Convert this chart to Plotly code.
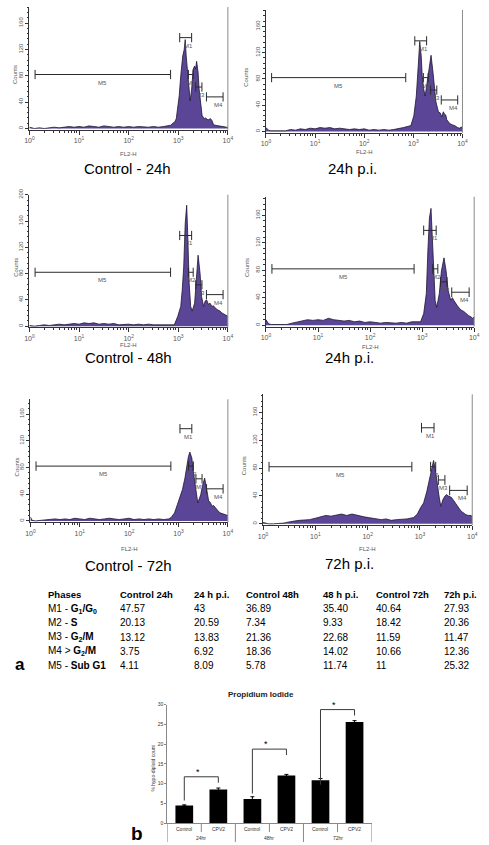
import math
import plotly.graph_objects as go

W, H = 489, 845

# ================= DATA =================
panel_titles = ["Control - 24h", "24h p.i.", "Control - 48h", "24h p.i.", "Control - 72h", "72h p.i."]

# FL2-H histograms: position in decades (log10 FL2-H) and event counts
c24_logx = [0.0, 0.1, 0.2, 0.3, 0.4, 0.5, 0.6, 0.7, 0.8, 0.9, 1.0, 1.1, 1.2, 1.3, 1.4, 1.5, 1.6, 1.7, 1.8, 1.9,
            2.0, 2.1, 2.2, 2.3, 2.4, 2.5, 2.6, 2.7, 2.8, 2.85, 2.89, 2.93, 2.96, 2.99, 3.02, 3.05, 3.09, 3.12,
            3.14, 3.16, 3.19, 3.22, 3.24, 3.27, 3.30, 3.33, 3.35, 3.37, 3.40, 3.42, 3.45, 3.48, 3.52, 3.55,
            3.60, 3.65, 3.68, 3.71, 3.74, 3.80, 3.84, 3.90, 3.97, 4.0]
c24_counts = [2, 0, 1, 0, 1, 2, 1, 2, 3, 2, 3, 2, 4, 3, 2, 4, 3, 2, 3, 2,
              3, 2, 3, 2, 2, 3, 2, 3, 4, 5, 8, 10, 15, 30, 50, 80, 110, 120,
              135, 110, 85, 55, 42, 60, 90, 95, 90, 102, 85, 60, 35, 20, 15, 16,
              13, 15, 12, 6, 5, 4, 3, 3, 2, 2]

p24_logx = [0.0, 0.05, 0.1, 0.2, 0.3, 0.4, 0.5, 0.6, 0.7, 0.8, 0.9, 1.0, 1.1, 1.2, 1.3, 1.4, 1.5, 1.6, 1.7, 1.8,
            1.9, 2.0, 2.1, 2.2, 2.3, 2.4, 2.5, 2.6, 2.7, 2.8, 2.9, 2.95, 3.01, 3.06, 3.10, 3.12, 3.13, 3.16,
            3.18, 3.21, 3.24, 3.28, 3.33, 3.36, 3.40, 3.43, 3.46, 3.51, 3.55, 3.58, 3.61, 3.63, 3.66, 3.68,
            3.72, 3.74, 3.80, 3.84, 3.90, 3.94, 3.98, 4.0]
p24_counts = [6, 2, 1, 1, 2, 1, 3, 2, 4, 3, 5, 4, 6, 5, 6, 4, 5, 4, 3, 4,
              3, 4, 2, 3, 2, 3, 2, 3, 4, 6, 8, 9, 24, 54, 100, 130, 137, 115,
              85, 65, 54, 74, 100, 116, 90, 65, 45, 30, 28, 22, 30, 27, 25, 18,
              14, 12, 10, 9, 6, 5, 7, 4]

c48_logx = [0.0, 0.1, 0.2, 0.3, 0.4, 0.5, 0.6, 0.7, 0.8, 0.9, 1.0, 1.1, 1.2, 1.3, 1.4, 1.5, 1.6, 1.7, 1.8, 1.9,
            2.0, 2.1, 2.2, 2.3, 2.4, 2.5, 2.6, 2.7, 2.8, 2.9, 2.92, 2.99, 3.05, 3.08, 3.11, 3.14, 3.17, 3.19,
            3.22, 3.25, 3.28, 3.33, 3.37, 3.40, 3.44, 3.47, 3.51, 3.54, 3.57, 3.61, 3.64, 3.68, 3.71, 3.74,
            3.79, 3.84, 3.88, 3.92, 3.96, 4.0]
c48_counts = [1, 0, 1, 2, 1, 2, 3, 2, 3, 4, 3, 5, 4, 5, 3, 4, 3, 4, 2, 3,
              3, 2, 3, 2, 3, 2, 2, 3, 2, 3, 2, 15, 30, 55, 90, 156, 184, 141,
              65, 30, 23, 35, 80, 108, 80, 45, 30, 38, 40, 33, 35, 30, 31, 28,
              25, 23, 20, 18, 16, 15]

p48_logx = [0.0, 0.05, 0.1, 0.2, 0.3, 0.4, 0.5, 0.6, 0.7, 0.8, 0.9, 1.0, 1.1, 1.2, 1.3, 1.4, 1.5, 1.6, 1.7, 1.8,
            1.9, 2.0, 2.1, 2.2, 2.3, 2.4, 2.5, 2.6, 2.7, 2.8, 2.9, 2.97, 3.03, 3.08, 3.11, 3.14, 3.17, 3.19,
            3.22, 3.25, 3.28, 3.33, 3.37, 3.42, 3.46, 3.50, 3.55, 3.58, 3.61, 3.64, 3.67, 3.71, 3.75, 3.80,
            3.84, 3.89, 3.94, 3.97, 4.0]
p48_counts = [8, 2, 1, 1, 0, 1, 3, 5, 6, 8, 7, 8, 7, 10, 8, 7, 6, 7, 5, 6,
              4, 5, 4, 3, 4, 3, 3, 4, 3, 5, 5, 5, 17, 46, 108, 156, 170, 132,
              70, 36, 26, 46, 79, 98, 79, 50, 36, 40, 36, 32, 29, 25, 22, 20,
              17, 14, 12, 10, 12]

c72_logx = [0.0, 0.03, 0.1, 0.2, 0.3, 0.4, 0.5, 0.6, 0.7, 0.8, 0.9, 1.0, 1.1, 1.2, 1.3, 1.4, 1.5, 1.6, 1.7, 1.8,
            1.9, 2.0, 2.1, 2.2, 2.3, 2.4, 2.5, 2.6, 2.7, 2.8, 2.85, 2.92, 2.98, 3.04, 3.08, 3.13, 3.17, 3.20,
            3.23, 3.25, 3.27, 3.30, 3.35, 3.39, 3.42, 3.45, 3.49, 3.53, 3.56, 3.61, 3.64, 3.68, 3.71, 3.74,
            3.79, 3.84, 3.88, 3.92, 3.96, 4.0]
c72_counts = [6, 1, 0, 1, 2, 2, 3, 2, 3, 2, 4, 3, 2, 4, 3, 2, 3, 4, 3, 2,
              3, 4, 2, 3, 2, 3, 2, 3, 2, 3, 5, 12, 25, 39, 47, 64, 84, 96,
              103, 98, 94, 74, 44, 27, 33, 39, 54, 64, 52, 30, 28, 22, 23, 20,
              16, 12, 11, 10, 9, 8]

p72_logx = [0.0, 0.1, 0.2, 0.3, 0.4, 0.45, 0.5, 0.6, 0.7, 0.8, 0.89, 1.0, 1.1, 1.2, 1.3, 1.4, 1.5, 1.6, 1.7, 1.76,
            1.85, 1.93, 2.01, 2.1, 2.2, 2.26, 2.35, 2.45, 2.55, 2.64, 2.75, 2.88, 2.95, 3.01, 3.07, 3.13, 3.18,
            3.23, 3.26, 3.29, 3.33, 3.37, 3.40, 3.44, 3.48, 3.51, 3.54, 3.57, 3.60, 3.63, 3.67, 3.70, 3.75,
            3.79, 3.84, 3.88, 3.93, 3.98, 4.0]
p72_counts = [2, 0, 0, 0, 1, 2, 3, 4, 5, 5, 6, 8, 10, 12, 11, 13, 14, 12, 14, 13,
              11, 10, 9, 8, 7, 6, 7, 5, 6, 6, 7, 9, 14, 23, 30, 46, 65,
              84, 91, 80, 56, 37, 25, 35, 40, 42, 40, 39, 38, 35, 30, 27, 22,
              18, 15, 13, 12, 12, 10]

hist_logx = [c24_logx, p24_logx, c48_logx, p48_logx, c72_logx, p72_logx]
hist_counts = [c24_counts, p24_counts, c48_counts, p48_counts, c72_counts, p72_counts]

# marker gates (FL2-H range and drawn level in counts)
gate_names = ["M1", "M2", "M3", "M4", "M5"]
gate_lo = [1070, 1600, 2250, 3700, 1.3]
gate_hi = [1860, 2000, 3000, 8000, 700]
gate_level = [138, 82, 63, 48, 82]

hist_yticks = [0, 40, 80, 120, 160, 200]
hist_xticks = [1, 10, 100, 1000, 10000]
hist_xticktext = ["10<sup>0</sup>", "10<sup>1</sup>", "10<sup>2</sup>", "10<sup>3</sup>", "10<sup>4</sup>"]

# table
table_header = ["Phases", "Control 24h", "24 h p.i.", "Control 48h", "48 h p.i.", "Control 72h", "72h p.i."]
table_phases = ["M1 - <b>G<sub>1</sub>/G<sub>0</sub></b>", "M2 - <b>S</b>", "M3 - <b>G<sub>2</sub>/M</b>",
                "M4 &gt; <b>G<sub>2</sub>/M</b>", "M5 - <b>Sub G1</b>"]
col_control24 = ["47.57", "20.13", "13.12", "3.75", "4.11"]
col_pi24 = ["43", "20.59", "13.83", "6.92", "8.09"]
col_control48 = ["36.89", "7.34", "21.36", "18.36", "5.78"]
col_pi48 = ["35.40", "9.33", "22.68", "14.02", "11.74"]
col_control72 = ["40.64", "18.42", "11.59", "10.66", "11"]
col_pi72 = ["27.93", "20.36", "11.47", "12.36", "25.32"]

# bar chart
bar_title = "Propidium Iodide"
bar_ytitle = "% hypo-diploid count"
bar_categories = ["Control", "CPV2", "Control", "CPV2", "Control", "CPV2"]
bar_groups = ["24hr", "48hr", "72hr"]
bar_values = [4.5, 8.5, 6.1, 12.1, 10.9, 25.6]
bar_errors = [0.15, 0.4, 0.6, 0.25, 0.4, 0.35]
bar_yticks = [0, 5, 10, 15, 20, 25, 30]
bracket_left = [5.75, 7.5, 9.75]
bracket_top = [11.75, 18.75, 28.75]
bracket_right = [10.25, 17.25, 27.25]

# ================= LAYOUT HELPERS =================
FONT = "Liberation Sans, Arial, sans-serif"
FILL = "#5b4596"
EDGE = "#1e1533"
AX = "#333333"
TXT = "#555555"


def fx(p):
    return p / W


def fy(p):
    return 1 - p / H


def note(text, x, y, size, color="black", xanchor="center", angle=0, xref="paper", yref="paper"):
    return dict(text=text, x=x, y=y, xref=xref, yref=yref, xanchor=xanchor, yanchor="middle",
                showarrow=False, textangle=angle, font=dict(size=size, color=color))


panels = [
    dict(x0=25, x1=228, top=0, base=124.3, ymax=184.5, tx=125, ty=163, fly=149, coff=14),
    dict(x0=267, x1=468, top=3, base=127.3, ymax=185, tx=355, ty=163, fly=147, coff=20),
    dict(x0=25, x1=228, top=190, base=324.3, ymax=200, tx=126, ty=355, fly=342, coff=14),
    dict(x0=267, x1=480, top=192, base=323.4, ymax=187, tx=352, ty=355, fly=344, coff=20),
    dict(x0=26, x1=228, top=397, base=521.4, ymax=182, tx=126, ty=565, fly=548, coff=14),
    dict(x0=264, x1=478, top=392, base=524.4, ymax=186, tx=352, ty=563, fly=548, coff=20),
]

fig = go.Figure()
annotations = []
shapes = []
layout = dict(
    width=W, height=H, margin=dict(l=0, r=0, t=0, b=0),
    paper_bgcolor="white", plot_bgcolor="white", showlegend=False,
    font=dict(family=FONT, color="black"),
)

minor_x = [m * 10 ** d for d in range(4) for m in range(2, 10)]

for k, (pn, lx, cnt) in enumerate(zip(panels, hist_logx, hist_counts), start=1):
    xa = "x" if k == 1 else f"x{k}"
    ya = "y" if k == 1 else f"y{k}"
    fig.add_trace(go.Scatter(
        x=[10 ** v for v in lx], y=cnt, mode="lines", xaxis=xa, yaxis=ya,
        line=dict(color=EDGE, width=0.8), fill="tozeroy", fillcolor=FILL, hoverinfo="skip"))
    # gates
    for name, lo, hi, lev in zip(gate_names, gate_lo, gate_hi, gate_level):
        cap = 7
        fig.add_trace(go.Scatter(
            x=[lo, lo, None, lo, hi, None, hi, hi],
            y=[lev - cap, lev + cap, None, lev, lev, None, lev - cap, lev + cap],
            mode="lines", xaxis=xa, yaxis=ya, line=dict(color="#2a2a2a", width=1), hoverinfo="skip"))
        if name == "M5":
            lxp = (lo * hi) ** 0.5
        else:
            lxp = lo ** 0.25 * hi ** 0.75
        a = note(name, math.log10(lxp), lev, 6, TXT, xref=xa, yref=ya)
        a["yshift"] = -8
        annotations.append(a)
    xkey = "xaxis" if k == 1 else f"xaxis{k}"
    ykey = "yaxis" if k == 1 else f"yaxis{k}"
    layout[xkey] = dict(
        type="log", range=[0, 4], domain=[fx(pn["x0"]), fx(pn["x1"])], anchor=ya,
        tickvals=hist_xticks, ticktext=hist_xticktext, ticks="outside", ticklen=4, tickcolor=AX,
        tickfont=dict(size=7, color=TXT), showline=True, linecolor=AX, linewidth=1,
        showgrid=False, zeroline=False,
        minor=dict(tickvals=minor_x, ticks="outside", ticklen=2, tickcolor=AX, showgrid=False))
    layout[ykey] = dict(
        range=[-2, pn["ymax"]], domain=[fy(pn["base"]), fy(pn["top"])], anchor=xa,
        tickvals=hist_yticks, ticks="outside", ticklen=3, tickcolor=AX, tickangle=-90,
        tickfont=dict(size=6, color=TXT), showline=True, linecolor=AX, linewidth=1,
        showgrid=False, zeroline=False,
        minor=dict(dtick=8, ticks="outside", ticklen=1.5, tickcolor=AX, showgrid=False))
    shapes.append(dict(type="line", xref=f"{xa} domain", yref=f"{ya} domain", x0=1, x1=1, y0=0, y1=1,
                       line=dict(color="#8a8a8a", width=1)))
    annotations.append(note("FL2-H", fx((pn["x0"] + pn["x1"]) / 2), fy(pn["fly"]), 6, TXT))
    annotations.append(note("Counts", fx(pn["x0"] - pn["coff"]), fy((pn["top"] + pn["base"]) / 2 + 6),
                            6, TXT, angle=-90))
    annotations.append(note(panel_titles[k - 1], fx(pn["tx"]), fy(pn["ty"]), 15))

# ---------------- table ----------------
col_x = [42, 116, 191, 244, 323, 378, 447]
row_y = [595, 609, 623, 638, 652, 666]
columns = [table_phases, col_control24, col_pi24, col_control48, col_pi48, col_control72, col_pi72]
for c, (hdr, xs) in enumerate(zip(table_header, col_x)):
    annotations.append(note(f"<b>{hdr}</b>", fx(xs), fy(row_y[0]), 9.5, xanchor="left"))
    for r, val in enumerate(columns[c]):
        annotations.append(note(val, fx(xs), fy(row_y[r + 1]), 10, xanchor="left"))
annotations.append(note("<b>a</b>", fx(15), fy(665), 17))

# ---------------- bar chart ----------------
bx = list(range(len(bar_values)))
fig.add_trace(go.Bar(
    x=bx, y=bar_values, xaxis="x7", yaxis="y7", width=0.52, marker=dict(color="black", line=dict(width=0)),
    error_y=dict(type="data", array=bar_errors, color="black", thickness=1, width=2), hoverinfo="skip"))
for g, (lo, top, hi) in enumerate(zip(bracket_left, bracket_top, bracket_right)):
    i, j = 2 * g, 2 * g + 1
    fig.add_trace(go.Scatter(x=[i, i, j, j], y=[lo, top, top, hi], mode="lines", xaxis="x7", yaxis="y7",
                             line=dict(color="#3a3a3a", width=1), hoverinfo="skip"))
    a = note("*", (i + j) / 2 - 0.1, top, 9, xref="x7", yref="y7")
    a["yshift"] = 5
    annotations.append(a)

layout["xaxis7"] = dict(range=[-0.5, 5.5], domain=[fx(166), fx(375)], anchor="y7", showticklabels=False,
                        ticks="", showline=True, linecolor="#888", linewidth=1, showgrid=False, zeroline=False)
layout["yaxis7"] = dict(range=[0, 30], domain=[fy(826), fy(706)], anchor="x7", tickvals=bar_yticks,
                        ticks="outside", ticklen=2, tickcolor="#888", tickfont=dict(size=5, color="#333"),
                        showline=True, linecolor="#888", linewidth=1, showgrid=False, zeroline=False)

for i, cat in enumerate(bar_categories):
    annotations.append(note(cat, i, fy(832), 5, "#333", xref="x7"))
for g, grp in enumerate(bar_groups):
    annotations.append(note(grp, 2 * g + 0.5, fy(841), 5, "#333", xref="x7"))
for b in range(len(bar_values) + 1):
    xb = b - 0.5
    bottom = 845 if b % 2 == 0 else 835
    shapes.append(dict(type="line", xref="x7", yref="paper", x0=xb, x1=xb, y0=fy(826), y1=fy(bottom),
                       line=dict(color="#888", width=1)))
annotations.append(note(f"<b>{bar_title}</b>", fx(262), fy(696), 8, "#222"))
annotations.append(note(bar_ytitle, fx(151), fy(770), 5, "#333", angle=-90))
annotations.append(note("<b>b</b>", fx(135), fy(836), 19))

layout["annotations"] = annotations
layout["shapes"] = shapes
fig.update_layout(**layout)
fig.write_html("out.html", config={"displayModeBar": False},
               post_script="document.body.style.margin='0';document.body.style.overflow='hidden';")
